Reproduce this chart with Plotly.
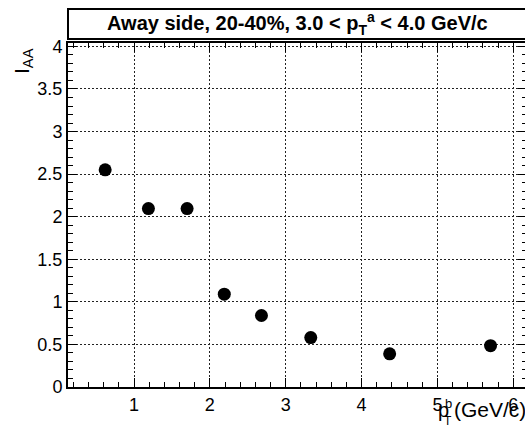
import plotly.graph_objects as go

# Data
pt_b = [0.62, 1.19, 1.70, 2.19, 2.68, 3.33, 4.37, 5.70]
i_aa = [2.55, 2.095, 2.095, 1.09, 0.84, 0.58, 0.39, 0.485]

title_text = "<b>Away side, 20-40%, 3.0 &lt; p<sub>T</sub><sup>a</sup> &lt; 4.0 GeV/c</b>"
ytitle_text = "I<sub>AA</sub>"

FONT = "Liberation Sans, Arial, Helvetica, sans-serif"

fig = go.Figure()
fig.add_trace(go.Scatter(
    x=pt_b, y=i_aa, mode="markers",
    marker=dict(symbol="circle", size=13, color="black"),
    showlegend=False,
))
# invisible trace on y2 for right-side ticks
fig.add_trace(go.Scatter(x=[pt_b[0]], y=[i_aa[0]], yaxis="y2", mode="markers",
                         marker=dict(opacity=0), showlegend=False, hoverinfo="skip"))

W, H = 525, 432
L, R, T, B = 68, 0, 43, 45

grid = dict(showgrid=True, gridcolor="#222222", gridwidth=1, griddash="2px,2px")

fig.update_layout(
    width=W, height=H,
    margin=dict(l=L, r=R, t=T, b=B, pad=0),
    paper_bgcolor="white", plot_bgcolor="white",
    font=dict(family=FONT, size=18, color="black"),
    xaxis=dict(
        range=[0.13, 6.154], tick0=0, dtick=1,
        ticks="inside", ticklen=9, tickwidth=1, tickcolor="black",
        minor=dict(ticks="inside", ticklen=5, dtick=0.2, tick0=0, tickcolor="black", showgrid=False),
        showline=True, linecolor="black", linewidth=2, mirror="ticks",
        zeroline=False, tickfont=dict(size=18, family=FONT), **grid,
    ),
    yaxis=dict(
        range=[0, 4.04], tick0=0, dtick=0.5,
        ticks="inside", ticklen=9, tickwidth=1, tickcolor="black",
        minor=dict(ticks="inside", ticklen=5, dtick=0.1, tick0=0, tickcolor="black", showgrid=False),
        showline=True, linecolor="black", linewidth=2, mirror=False,
        zeroline=False, tickfont=dict(size=18, family=FONT), **grid,
    ),
    yaxis2=dict(
        range=[0, 4.04], tick0=0, dtick=0.5, overlaying="y", side="right",
        ticks="inside", ticklen=7, tickwidth=1, tickcolor="black",
        minor=dict(ticks="inside", ticklen=3, dtick=0.1, tick0=0, tickcolor="black", showgrid=False),
        showline=False, showgrid=False, showticklabels=False, zeroline=False,
    ),
)

ph = H - T - B
pw = W - L - R

def py(p):
    return (H - B - p) / ph

def px(p):
    return (p - L) / pw

# Title box
fig.add_shape(type="rect", xref="paper", yref="paper",
              x0=0, x1=1.02, y0=py(39), y1=py(9),
              line=dict(color="black", width=2), fillcolor="white", layer="above")
fig.add_annotation(text=title_text, xref="paper", yref="paper",
                   x=px(297), y=py(24), xanchor="center", yanchor="middle",
                   showarrow=False, font=dict(family=FONT, size=20, color="black"))
# Y title
fig.add_annotation(text=ytitle_text, xref="paper", yref="paper",
                   x=px(23), y=py(46), xanchor="center", yanchor="top",
                   textangle=-90, showarrow=False,
                   font=dict(family=FONT, size=21, color="black"))
# X title: p with stacked T subscript and b superscript
fig.add_annotation(text="p", xref="paper", yref="paper",
                   x=px(436), y=py(410), xanchor="left", yanchor="middle",
                   showarrow=False, font=dict(family=FONT, size=20, color="black"))
fig.add_annotation(text="b", xref="paper", yref="paper",
                   x=px(448), y=py(403), xanchor="center", yanchor="middle",
                   showarrow=False, font=dict(family=FONT, size=13, color="black"))
fig.add_annotation(text="T", xref="paper", yref="paper",
                   x=px(448), y=py(421), xanchor="center", yanchor="middle",
                   showarrow=False, font=dict(family=FONT, size=12, color="black"))
fig.add_annotation(text="(GeV/c)", xref="paper", yref="paper",
                   x=px(452), y=py(410), xanchor="left", yanchor="middle",
                   showarrow=False, font=dict(family=FONT, size=21, color="black"))

fig.write_html("out.html")
